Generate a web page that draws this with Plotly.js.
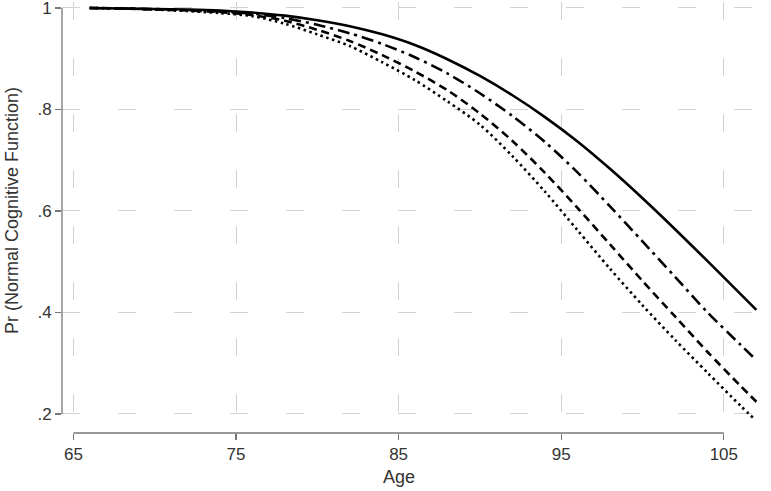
<!DOCTYPE html>
<html>
<head>
<meta charset="utf-8">
<script src="https://cdn.plot.ly/plotly-3.0.1.min.js"></script>
<style>html,body{margin:0;padding:0;background:#fff;}#chart{width:771px;height:491px;}</style>
</head>
<body>
<div id="chart"></div>
<script>
const ages = [66, 68, 70, 72, 74, 76, 78, 80, 82, 84, 86, 88, 90, 92, 94, 96, 98, 100, 102, 104, 106, 107];
const solidVals   = [1.000, 0.999, 0.998, 0.997, 0.995, 0.991, 0.985, 0.976, 0.964, 0.948, 0.927, 0.899, 0.866, 0.828, 0.785, 0.737, 0.683, 0.625, 0.564, 0.501, 0.437, 0.405];
const dashDotVals = [1.000, 0.999, 0.998, 0.996, 0.993, 0.989, 0.980, 0.967, 0.950, 0.929, 0.903, 0.871, 0.832, 0.787, 0.736, 0.676, 0.609, 0.540, 0.470, 0.400, 0.337, 0.306];
const dashedVals  = [1.000, 0.999, 0.997, 0.995, 0.992, 0.986, 0.975, 0.957, 0.935, 0.907, 0.875, 0.838, 0.792, 0.738, 0.675, 0.606, 0.534, 0.462, 0.392, 0.322, 0.256, 0.224];
const dottedVals  = [1.000, 0.999, 0.997, 0.994, 0.990, 0.984, 0.969, 0.948, 0.925, 0.893, 0.858, 0.816, 0.770, 0.708, 0.638, 0.562, 0.486, 0.414, 0.346, 0.281, 0.217, 0.186];
const xTicks = [65, 75, 85, 95, 105];
const yTicks = [1, 0.8, 0.6, 0.4, 0.2];
const yTickText = ['1', '.8', '.6', '.4', '.2'];

const lineW = 2.6;
const mk = (y, dash) => ({x: ages, y: y, type: 'scatter', mode: 'lines',
  line: {color: '#000', width: lineW, dash: dash, shape: 'spline', smoothing: 0.8}, showlegend: false, hoverinfo: 'skip'});

const data = [
  mk(solidVals, 'solid'),
  mk(dashDotVals, '12px,5px,3px,5px'),
  mk(dashedVals, '8px,5px'),
  mk(dottedVals, '2.5px,3.5px')
];

const fam = 'Liberation Sans, Arial, sans-serif';
const font = {family: fam, color: '#333'};
const gridStyle = {showgrid: true, gridcolor: '#d2d2d2', gridwidth: 1, griddash: '18px,38px'};

const layout = {
  width: 771, height: 491,
  margin: {l: 62, r: 0, t: 2, b: 58},
  paper_bgcolor: '#fff', plot_bgcolor: '#fff',
  font: font,
  xaxis: Object.assign({
    range: [64.3, 107.9], tickvals: xTicks, ticktext: xTicks.map(String),
    anchor: 'free', position: 0,
    showline: false, zeroline: false,
    ticks: 'outside', ticklen: 6, tickwidth: 1.2, tickcolor: '#777',
    ticklabeloverflow: 'allow',
    tickfont: {size: 17, color: '#333', family: fam}
  }, gridStyle),
  yaxis: Object.assign({
    domain: [0.0325, 1],
    range: [0.19, 1.0118], tickvals: yTicks, ticktext: yTickText,
    showline: false, zeroline: false,
    ticks: 'outside', ticklen: 6, tickwidth: 1.2, tickcolor: '#777',
    ticklabeloverflow: 'allow',
    tickfont: {size: 17, color: '#333', family: fam}
  }, gridStyle),
  shapes: [
    {type: 'line', xref: 'x', yref: 'paper', x0: xTicks[0], x1: xTicks[xTicks.length-1], y0: 0, y1: 0,
     line: {color: '#777', width: 1.3}},
    {type: 'line', xref: 'paper', yref: 'y', x0: 0, x1: 0, y0: yTicks[yTicks.length-1], y1: yTicks[0],
     line: {color: '#777', width: 1.3}}
  ],
  annotations: [
    {text: 'Age', xref: 'x', yref: 'paper', x: 85, y: -0.102, xanchor: 'center', yanchor: 'middle',
     showarrow: false, font: {size: 18, color: '#333', family: fam}},
    {text: 'Pr (Normal Cognitive Function)', xref: 'paper', yref: 'y', x: -0.0705, y: 0.6,
     textangle: -90, xanchor: 'center', yanchor: 'middle', showarrow: false,
     font: {size: 18, color: '#333', family: fam}}
  ]
};

Plotly.newPlot('chart', data, layout, {staticPlot: true, displayModeBar: false});
</script>
</body>
</html>
